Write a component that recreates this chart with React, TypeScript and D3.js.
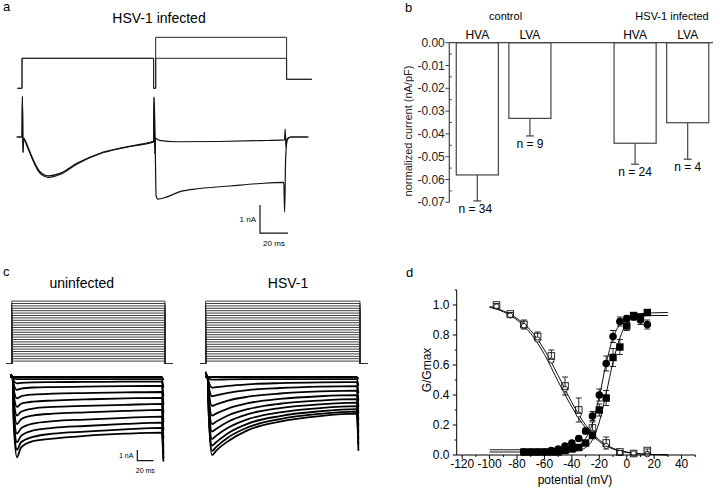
import React from "react";
import * as d3 from "d3";

const FONT = "'Liberation Sans', Arial, Helvetica, sans-serif";

// ---------------- panel a : HSV-1 infected, two sweeps ----------------
const aUpperTimes = [-3.8, 0, 0.3, 0.7, 1.2, 2.1, 5, 8.1, 12.9, 18.8, 27.1, 39.1, 55.7, 72.1, 92.6, 94, 94.3, 94.8, 95.5, 98, 110, 140, 170, 187.5, 188, 188.5, 189.5, 192, 204.5];
const aUpperCurrent = [0, 0, 1.46, -0.55, -0.05, -0.11, -0.45, -0.82, -1.24, -1.39, -1.3, -0.94, -0.58, -0.38, -0.17, -0.15, 1.43, -0.6, -0.05, -0.12, -0.17, -0.16, -0.13, -0.1, 0.28, -0.35, -0.05, 0, 0];
const aLowerTimes = [-3.8, 0, 0.3, 0.7, 1.2, 2.1, 5, 8.1, 12.9, 18.8, 27.1, 39.1, 55.7, 72.1, 92.6, 94, 94.3, 95, 95.8, 97, 103, 112.9, 127, 148.6, 170, 187, 187.6, 188.3, 189.5, 192, 204.5];
const aLowerCurrent = [0, 0, 1.4, -0.55, -0.05, -0.14, -0.5, -0.87, -1.3, -1.44, -1.34, -0.97, -0.6, -0.39, -0.2, -0.18, 1.4, 0.2, -2.1, -2.22, -2.15, -1.95, -1.84, -1.75, -1.66, -1.62, -2.68, -0.8, -0.1, 0, 0];
const aProtoTimes = [-3.4, 0, 0, 94, 94, 95.5, 95.5, 189, 189, 207];
const aProtoHigh = [-90, -90, -40, -40, -90, -90, -5, -5, -75, -75];
const aProtoLow = [-90, -90, -40, -40, -90, -90, -40, -40, -75, -75];

// ---------------- panel b : normalized current ----------------
const bGroups = ["control", "HSV-1 infected"];
const bSlots = ["c-HVA", "c-LVA", "gap", "i-HVA", "i-LVA"];
const bBarSlot = ["c-HVA", "c-LVA", "i-HVA", "i-LVA"];
const bChannels = ["HVA", "LVA", "HVA", "LVA"];
const bMeans = [-0.058, -0.0332, -0.0441, -0.0351];
const bErrors = [0.0114, 0.0077, 0.0092, 0.016];
const bCounts = [34, 9, 24, 4];
const bTicks = [0, -0.01, -0.02, -0.03, -0.04, -0.05, -0.06, -0.07];
const bMinorTicks = [-0.005, -0.015, -0.025, -0.035, -0.045, -0.055, -0.065];

// ---------------- panel c : current families ----------------
const cHold = -90;
const cSteps = [-85, -80, -75, -70, -65, -60, -55, -50, -45, -40, -35, -30, -25, -20, -15, -10, -5, 0, 5, 10, 15, 20, 25, 30, 35, 40];
const cTimes = [-3, -0.5, 1, 5, 10, 25, 50, 90, 140, 186, 188];
const cUninfected = [
  [0.3, 0, 0, 0, 0, 0, 0, 0, 0, 0, -0.3],
  [0.2, 0, -0.1, -0.2, -0.2, -0.2, -0.2, -0.2, -0.2, -0.2, -1.0],
  [0.2, 0, -0.36, -0.6, -0.55, -0.5, -0.48, -0.46, -0.44, -0.43, -1.8],
  [0.1, 0, -0.72, -1.2, -1.08, -0.98, -0.94, -0.9, -0.86, -0.84, -2.6],
  [0, 0, -1.2, -2.0, -1.8, -1.64, -1.56, -1.5, -1.44, -1.4, -3.4],
  [0, 0, -1.7, -2.8, -2.5, -2.3, -2.2, -2.1, -2.0, -1.96, -4.2],
  [0, 0, -2.2, -3.6, -3.25, -2.95, -2.8, -2.7, -2.6, -2.52, -5.0],
  [0, 0, -2.6, -4.4, -3.95, -3.6, -3.43, -3.3, -3.17, -3.08, -5.8],
  [0, 0, -3.2, -5.3, -4.8, -4.35, -4.13, -3.98, -3.82, -3.71, -6.5],
  [0, 0, -3.7, -6.1, -5.5, -5.0, -4.76, -4.58, -4.39, -4.27, -7.1],
  [0, 0, -4.1, -6.8, -6.1, -5.6, -5.3, -5.1, -4.9, -4.76, -7.6],
  [0, 0, -4.5, -7.5, -6.6, -6.0, -5.75, -5.5, -5.3, -5.2, -7.9],
];
const cInfected = [
  [0.5, 0, 0, 0, 0, 0, 0, 0, 0, 0, -0.2],
  [0.4, 0, -0.15, -0.25, -0.25, -0.22, -0.2, -0.2, -0.2, -0.2, -0.8],
  [0.3, 0, -0.5, -1.0, -0.95, -0.82, -0.68, -0.57, -0.5, -0.47, -1.5],
  [0.2, 0, -0.9, -1.8, -1.71, -1.48, -1.22, -1.03, -0.9, -0.85, -2.2],
  [0, 0, -1.35, -2.7, -2.57, -2.2, -1.84, -1.54, -1.35, -1.27, -2.8],
  [0, 0, -1.8, -3.6, -3.42, -2.95, -2.45, -2.05, -1.8, -1.7, -3.4],
  [0, 0, -2.2, -4.4, -4.18, -3.6, -3.0, -2.5, -2.2, -2.07, -4.0],
  [0, 0, -2.55, -5.1, -4.85, -4.18, -3.47, -2.9, -2.55, -2.4, -4.6],
  [0, 0, -2.9, -5.8, -5.5, -4.75, -3.94, -3.3, -2.9, -2.73, -5.2],
  [0, 0, -3.2, -6.4, -6.1, -5.25, -4.35, -3.65, -3.2, -3.0, -5.8],
  [0, 0, -3.45, -6.9, -6.55, -5.66, -4.7, -3.93, -3.45, -3.24, -6.3],
  [0, 0, -3.65, -7.3, -6.9, -6.0, -4.96, -4.16, -3.65, -3.43, -6.9],
];

// ---------------- panel d : G/Gmax vs potential ----------------
const dActV = [-75, -70, -65, -60, -55, -50, -45, -40, -35, -30, -25, -20, -15, -10, -5, 0, 5, 10, 15];
const dCircles = [0.02, 0.02, 0.02, 0.02, 0.03, 0.04, 0.06, 0.08, 0.11, 0.16, 0.26, 0.4, 0.61, 0.79, 0.89, 0.91, 0.92, 0.9, 0.87];
const dCirclesErr = [0.005, 0.005, 0.005, 0.005, 0.005, 0.01, 0.01, 0.01, 0.015, 0.02, 0.03, 0.04, 0.05, 0.04, 0.03, 0.02, 0.02, 0.03, 0.03];
const dSquares = [0.02, 0.02, 0.02, 0.02, 0.02, 0.02, 0.03, 0.04, 0.05, 0.08, 0.13, 0.3, 0.38, 0.65, 0.72, 0.86, 0.93, 0.92, 0.95];
const dSquaresErr = [0.005, 0.005, 0.005, 0.005, 0.005, 0.005, 0.01, 0.01, 0.01, 0.015, 0.02, 0.04, 0.05, 0.06, 0.05, 0.03, 0.02, 0.02, 0.01];
const dInactV = [-95, -85, -75, -65, -55, -45, -35, -25, -15, -5, 5, 15];
const dInactSq = [1.0, 0.94, 0.87, 0.79, 0.66, 0.46, 0.3, 0.18, 0.08, 0.02, 0.01, 0.03];
const dInactSqErr = [0.01, 0.01, 0.03, 0.03, 0.04, 0.06, 0.08, 0.04, 0.04, 0.01, 0.005, 0.01];
const dInactCirc = [0.99, 0.93, 0.86, 0.77, 0.63, 0.44, 0.27, 0.15, 0.06, 0.015, 0.01, 0.005];
const dFitActV = [-100, -90, -80, -70, -60, -50, -45, -40, -35, -30, -25, -20, -15, -10, -5, 0, 5, 10, 15, 20, 30];
const dFitCircles = [0.035, 0.035, 0.035, 0.035, 0.035, 0.036, 0.039, 0.046, 0.064, 0.11, 0.21, 0.39, 0.61, 0.78, 0.87, 0.905, 0.92, 0.926, 0.929, 0.93, 0.93];
const dFitSquares = [0.02, 0.02, 0.02, 0.02, 0.02, 0.02, 0.021, 0.024, 0.03, 0.05, 0.1, 0.22, 0.41, 0.62, 0.78, 0.88, 0.925, 0.94, 0.946, 0.948, 0.95];
const dFitInactV = [-100, -90, -80, -70, -60, -50, -40, -30, -20, -10, 0, 10, 20, 30];
const dFitInactA = [0.99, 0.96, 0.91, 0.83, 0.7, 0.53, 0.35, 0.2, 0.1, 0.045, 0.02, 0.008, 0.003, 0.001];
const dFitInactB = [0.985, 0.955, 0.9, 0.81, 0.67, 0.49, 0.32, 0.18, 0.09, 0.04, 0.017, 0.007, 0.003, 0.001];
const dXTicks = [-120, -100, -80, -60, -40, -20, 0, 20, 40];
const dXMinor = [-110, -90, -70, -50, -30, -10, 10, 30, 50];
const dYTicks = [0, 0.2, 0.4, 0.6, 0.8, 1.0];
const dYMinor = [0.1, 0.3, 0.5, 0.7, 0.9, 1.1];

type P = [number, number];
const zip = (xs: number[], ys: number[]): P[] => xs.map((x, i) => [x, ys[i]] as P);

function PanelA() {
  const x = d3.scaleLinear().domain([0, 20]).range([22, 50]);
  const v = d3.scaleLinear().domain([-90, -5]).range([88.3, 37.3]);
  const cur = d3.scaleLinear().domain([0, -1]).range([137, 165]);
  const proto = d3.line<P>().x((d) => x(d[0])).y((d) => v(d[1]));
  const trace = d3.line<P>().x((d) => x(d[0])).y((d) => cur(d[1])).curve(d3.curveMonotoneX);
  const sbT = 170, sbI = -2.43;
  return (
    <g>
      <text x={3} y={10.7} fontSize={13}>a</text>
      <text x={159} y={23.3} fontSize={14} textAnchor="middle">HSV-1 infected</text>
      <path d={proto(zip(aProtoTimes, aProtoHigh)) || ""} fill="none" stroke="#222" strokeWidth={1} />
      <path d={proto(zip(aProtoTimes, aProtoLow)) || ""} fill="none" stroke="#222" strokeWidth={1} />
      <path d={trace(zip(aUpperTimes, aUpperCurrent)) || ""} fill="none" stroke="#111" strokeWidth={1.2} />
      <path d={trace(zip(aLowerTimes, aLowerCurrent)) || ""} fill="none" stroke="#111" strokeWidth={1.2} />
      <path
        d={`M${x(sbT)},${cur(sbI)}V${cur(sbI - 1)}H${x(sbT + 20)}`}
        fill="none" stroke="#111" strokeWidth={1.2}
      />
      <text x={x(sbT) - 4} y={222} fontSize={8} textAnchor="end">1 nA</text>
      <text x={x(sbT + 10)} y={246} fontSize={8} textAnchor="middle">20 ms</text>
    </g>
  );
}

function PanelB() {
  const x = d3.scaleBand<string>().domain(bSlots).range([451, 714]).paddingInner(0.2).paddingOuter(0.1);
  const y = d3.scaleLinear().domain([0, -0.07]).range([42.7, 202.3]);
  const axisX = 449.3;
  const bw = x.bandwidth();
  const centers = bBarSlot.map((s) => (x(s) as number) + bw / 2);
  return (
    <g>
      <text x={405} y={11.7} fontSize={13}>b</text>
      <text x={(centers[0] + centers[1]) / 2 + 2} y={20} fontSize={11} textAnchor="middle">{bGroups[0]}</text>
      <text x={(x(bBarSlot[3]) as number) + bw} y={20} fontSize={11} textAnchor="end">{bGroups[1]}</text>
      {bChannels.map((c, i) => (
        <text key={"ch" + i} x={centers[i]} y={38.5} fontSize={12} textAnchor="middle">{c}</text>
      ))}
      {bMeans.map((m, i) => (
        <g key={"bar" + i}>
          <rect x={x(bBarSlot[i]) as number} y={y(0)} width={bw} height={y(m) - y(0)} fill="#fff" stroke="#444" strokeWidth={1.2} />
          <line x1={centers[i]} x2={centers[i]} y1={y(m)} y2={y(m - bErrors[i])} stroke="#444" strokeWidth={1.2} />
          <line x1={centers[i] - 4} x2={centers[i] + 4} y1={y(m - bErrors[i])} y2={y(m - bErrors[i])} stroke="#444" strokeWidth={1.2} />
          <text x={centers[i] - (i === 0 ? 2 : 0)} y={y(m - bErrors[i]) + 12} fontSize={12} textAnchor="middle">{`n = ${bCounts[i]}`}</text>
        </g>
      ))}
      <line x1={axisX} x2={713} y1={y(0)} y2={y(0)} stroke="#444" strokeWidth={1.2} />
      <line x1={axisX} x2={axisX} y1={y(0)} y2={y(-0.07)} stroke="#444" strokeWidth={1.2} />
      {bTicks.map((t) => (
        <g key={"bt" + t}>
          <line x1={axisX - 4} x2={axisX} y1={y(t)} y2={y(t)} stroke="#444" strokeWidth={1} />
          <text x={axisX - 4.5} y={y(t) + 4} fontSize={12} textAnchor="end" fill="#222">{t.toFixed(2)}</text>
        </g>
      ))}
      {bMinorTicks.map((t) => (
        <line key={"bm" + t} x1={axisX} x2={axisX + 2.5} y1={y(t)} y2={y(t)} stroke="#444" strokeWidth={1} />
      ))}
      <text transform="translate(412,131) rotate(-90)" fontSize={11} textAnchor="middle" fill="#222">normalized current (nA/pF)</text>
    </g>
  );
}

function Family({ x0, traces, boxStart, holdStart }: { x0: number; traces: number[][]; boxStart: number; holdStart: number }) {
  const x = d3.scaleLinear().domain([0, 20]).range([x0, x0 + 16]);
  const v = d3.scaleLinear().domain([-90, 40]).range([363.5, 301.1]);
  const cur = d3.scaleLinear().domain([0, -1]).range([377, 387.7]);
  const proto = d3.line<P>().x((d) => x(d[0])).y((d) => v(d[1]));
  const trace = d3.line<P>().x((d) => x(d[0])).y((d) => cur(d[1])).curve(d3.curveMonotoneX);
  return (
    <g>
      {cSteps.map((s) => (
        <path
          key={"p" + s}
          d={proto([[holdStart, cHold], [boxStart, cHold], [boxStart, s], [190, s], [190, cHold], [200, cHold]]) || ""}
          fill="none" stroke="#2a2a2a" strokeWidth={0.9}
        />
      ))}
      {traces.map((tr, i) => (
        <path key={"t" + i} d={trace(zip(cTimes, tr)) || ""} fill="none" stroke="#000" strokeWidth={1.8} />
      ))}
    </g>
  );
}

function PanelC() {
  const xl = d3.scaleLinear().domain([0, 20]).range([13, 29]);
  const cur = d3.scaleLinear().domain([0, -1]).range([377, 387.7]);
  const sbT = 155.4, sbI = -6.82;
  return (
    <g>
      <text x={3} y={276} fontSize={13}>c</text>
      <text x={81.7} y={288} fontSize={14} textAnchor="middle">uninfected</text>
      <text x={288} y={288} fontSize={14} textAnchor="middle">HSV-1</text>
      <Family x0={13} traces={cUninfected} boxStart={-1.6} holdStart={-8} />
      <Family x0={208} traces={cInfected} boxStart={-3} holdStart={-10} />
      <path d={`M${xl(sbT)},${cur(sbI)}V${cur(sbI - 1)}H${xl(sbT + 20)}`} fill="none" stroke="#111" strokeWidth={1.2} />
      <text x={xl(sbT) - 4} y={458} fontSize={7} textAnchor="end">1 nA</text>
      <text x={xl(sbT + 10)} y={472.5} fontSize={7} textAnchor="middle">20 ms</text>
    </g>
  );
}

function PanelD() {
  const x = d3.scaleLinear().domain([-124, 50]).range([456.7, 695.3]);
  const y = d3.scaleLinear().domain([0, 1.1]).range([455, 290]);
  const line = d3.line<P>().x((d) => x(d[0])).y((d) => y(d[1])).curve(d3.curveMonotoneX);
  const errBars = (vs: number[], ms: number[], es: number[], key: string) =>
    vs.map((vv, i) => {
      const cx = x(vv);
      const y1 = y(ms[i] + es[i]);
      const y2 = y(ms[i] - es[i]);
      return (
        <path key={key + i} d={`M${cx - 3},${y1}H${cx + 3}M${cx},${y1}V${y2}M${cx - 3},${y2}H${cx + 3}`} stroke="#111" strokeWidth={0.9} fill="none" />
      );
    });
  return (
    <g>
      <text x={406} y={276.7} fontSize={13}>d</text>
      <path d={line(zip(dFitInactV, dFitInactA)) || ""} fill="none" stroke="#111" strokeWidth={1} />
      <path d={line(zip(dFitInactV, dFitInactB)) || ""} fill="none" stroke="#111" strokeWidth={1} />
      <path d={line(zip(dFitActV, dFitCircles)) || ""} fill="none" stroke="#111" strokeWidth={1} />
      <path d={line(zip(dFitActV, dFitSquares)) || ""} fill="none" stroke="#111" strokeWidth={1} />
      {errBars(dInactV, dInactSq, dInactSqErr, "ie")}
      {errBars(dActV, dCircles, dCirclesErr, "ce")}
      {errBars(dActV, dSquares, dSquaresErr, "se")}
      {dInactV.map((vv, i) => (
        <circle key={"ic" + i} cx={x(vv)} cy={y(dInactCirc[i])} r={2.6} fill="#fff" stroke="#111" strokeWidth={0.9} />
      ))}
      {dInactV.map((vv, i) => (
        <rect key={"is" + i} x={x(vv) - 3.3} y={y(dInactSq[i]) - 3.3} width={6.6} height={6.6} fill="none" stroke="#111" strokeWidth={0.9} />
      ))}
      {dActV.map((vv, i) => (
        <rect key={"fs" + i} x={x(vv) - 3.7} y={y(dSquares[i]) - 3.7} width={7.4} height={7.4} fill="#000" />
      ))}
      {dActV.map((vv, i) => (
        <circle key={"fc" + i} cx={x(vv)} cy={y(dCircles[i])} r={3.8} fill="#000" />
      ))}
      <line x1={x(-124)} x2={x(-124)} y1={y(0)} y2={y(1.1)} stroke="#000" strokeWidth={1} />
      <line x1={x(-124)} x2={x(50)} y1={y(0)} y2={y(0)} stroke="#000" strokeWidth={1} />
      {dXTicks.map((t) => (
        <g key={"dx" + t}>
          <line x1={x(t)} x2={x(t)} y1={y(0)} y2={y(0) + 4} stroke="#000" />
          <text x={x(t)} y={467.5} fontSize={12} textAnchor="middle">{String(t)}</text>
        </g>
      ))}
      {dXMinor.map((t) => (
        <line key={"dxm" + t} x1={x(t)} x2={x(t)} y1={y(0)} y2={y(0) + 2} stroke="#000" />
      ))}
      {dYTicks.map((t) => (
        <g key={"dy" + t}>
          <line x1={x(-124) - 4} x2={x(-124)} y1={y(t)} y2={y(t)} stroke="#000" />
          <text x={449.5} y={y(t) + 4} fontSize={12} textAnchor="end">{t.toFixed(1)}</text>
        </g>
      ))}
      {dYMinor.map((t) => (
        <line key={"dym" + t} x1={x(-124) - 2} x2={x(-124)} y1={y(t)} y2={y(t)} stroke="#000" />
      ))}
      <text x={575} y={484} fontSize={12} textAnchor="middle">potential (mV)</text>
      <text transform="translate(431,370) rotate(-90)" fontSize={12} textAnchor="middle">G/Gmax</text>
    </g>
  );
}

export default function App() {
  return (
    <svg
      width={720}
      height={490}
      style={{ position: "absolute", left: 0, top: 0, background: "#fff" }}
      fontFamily={FONT}
    >
      <rect width={720} height={490} fill="#fff" />
      <PanelA />
      <PanelB />
      <PanelC />
      <PanelD />
    </svg>
  );
}
